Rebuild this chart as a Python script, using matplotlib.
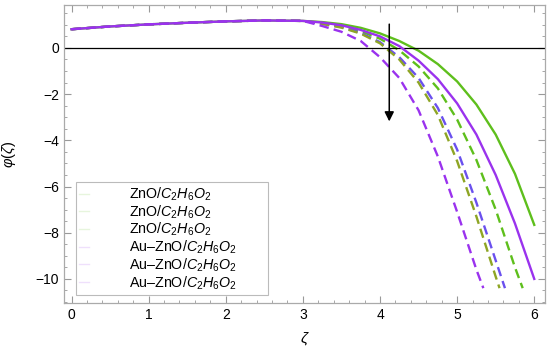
import matplotlib
matplotlib.use("Agg")
import matplotlib.pyplot as plt
from matplotlib.lines import Line2D
from matplotlib.ticker import MultipleLocator

plt.rcParams['font.family'] = ['Liberation Sans', 'DejaVu Sans']
plt.rcParams['mathtext.fontset'] = 'custom'
plt.rcParams['mathtext.rm'] = 'Liberation Sans'
plt.rcParams['mathtext.it'] = 'Liberation Sans:italic'

# shared rising part of all curves
zeta_common = [0.0, 0.5, 1.0, 1.5, 2.0, 2.5, 3.0]
phi_common = [0.81, 0.93, 1.02, 1.09, 1.15, 1.19, 1.17]

# falling parts
zeta_tail = [3.25, 3.5, 3.75, 4.0, 4.25, 4.5, 4.75, 5.0, 5.25, 5.5, 5.75, 6.0]
phi_zno_1 = [1.12, 1.03, 0.87, 0.63, 0.30, -0.12, -0.70, -1.45, -2.45, -3.75, -5.45, -7.66]
phi_auzno_1 = [1.10, 0.98, 0.78, 0.50, 0.08, -0.55, -1.35, -2.40, -3.75, -5.50, -7.60, -10.0]

zeta_zno_2 = [3.25, 3.5, 3.75, 4.0, 4.25, 4.5, 4.75, 5.0, 5.25, 5.5, 5.75, 5.85]
phi_zno_2 = [1.08, 0.95, 0.72, 0.40, -0.10, -0.80, -1.75, -3.10, -4.85, -7.00, -9.50, -10.4]

zeta_auzno_2 = [3.25, 3.5, 3.75, 4.0, 4.25, 4.5, 4.75, 5.0, 5.25, 5.5, 5.62]
phi_auzno_2 = [1.05, 0.90, 0.65, 0.25, -0.40, -1.30, -2.60, -4.40, -6.70, -9.20, -10.4]

zeta_zno_3 = [3.25, 3.5, 3.75, 4.0, 4.25, 4.5, 4.75, 5.0, 5.25, 5.5, 5.55]
phi_zno_3 = [1.04, 0.88, 0.62, 0.20, -0.50, -1.50, -2.90, -4.90, -7.30, -9.90, -10.4]

zeta_auzno_3 = [3.25, 3.5, 3.75, 4.0, 4.25, 4.5, 4.75, 5.0, 5.25, 5.34]
phi_auzno_3 = [0.95, 0.70, 0.30, -0.40, -1.30, -2.70, -4.70, -7.10, -9.60, -10.4]

labels = ["ZnO/$C_2H_6O_2$"] * 3 + ["Au\u2013ZnO/$C_2H_6O_2$"] * 3

green = '#5ebf1c'
purple = '#9a32ee'
blue = '#6a50ee'
olive = '#8ea524'

fig = plt.figure(figsize=(5.5, 3.55), dpi=100)
ax = fig.add_axes([0.116, 0.146, 0.875, 0.840])

series = [
    (zeta_tail, phi_zno_1, green, '-', 2),
    (zeta_zno_2, phi_zno_2, green, '--', 2),
    (zeta_auzno_2, phi_auzno_2, blue, '--', 2),
    (zeta_zno_3, phi_zno_3, olive, '--', 2),
    (zeta_auzno_3, phi_auzno_3, purple, '--', 2),
    (zeta_tail, phi_auzno_1, purple, '-', 3),
]
for zt, pt, col, ls, z in series:
    x = zeta_common + zt
    y = phi_common + pt
    if ls == '--':
        ax.plot(x, y, color=col, lw=1.7, dashes=(4, 2.2), zorder=z)
    else:
        ax.plot(x, y, color=col, lw=1.7, zorder=z)

ax.axhline(0, color='black', lw=0.9)
ax.annotate('', xy=(4.12, -3.3), xytext=(4.12, 1.15),
            arrowprops=dict(arrowstyle='-|>', color='black', lw=1.1,
                            mutation_scale=14), zorder=4)

ax.set_xlim(-0.1, 6.14)
ax.set_ylim(-11.05, 1.86)
ax.xaxis.set_major_locator(MultipleLocator(1))
ax.xaxis.set_minor_locator(MultipleLocator(0.2))
ax.yaxis.set_major_locator(MultipleLocator(2))
ax.yaxis.set_minor_locator(MultipleLocator(0.5))
ax.tick_params(which='both', direction='in', top=True, right=True,
               color='#999999', labelsize=10)
ax.tick_params(which='major', length=5, width=0.8)
ax.tick_params(which='minor', length=2.5, width=0.6)
for s in ax.spines.values():
    s.set_color('#aaaaaa')
    s.set_linewidth(0.9)

ax.set_xlabel('$\\zeta$', fontsize=11, labelpad=6)
ax.set_ylabel('$\\varphi(\\zeta)$', fontsize=10.5)
ax.yaxis.set_label_coords(-0.096, 0.5)

handle_cols = [green, green, green, purple, purple, purple]
handles = [Line2D([0], [0], color=c, lw=1.0, alpha=0.15) for c in handle_cols]
leg = ax.legend(handles, labels, loc='lower left',
                bbox_to_anchor=(0.025, 0.027, 0.40, 0.3), mode='expand',
                fontsize=10.3, frameon=True, fancybox=False, handlelength=0.7,
                handletextpad=2.8, labelspacing=0.02, borderpad=0.25,
                borderaxespad=0)
leg.get_frame().set_edgecolor('#aaaaaa')
leg.get_frame().set_linewidth(0.8)

fig.savefig('out.png', dpi=100)
